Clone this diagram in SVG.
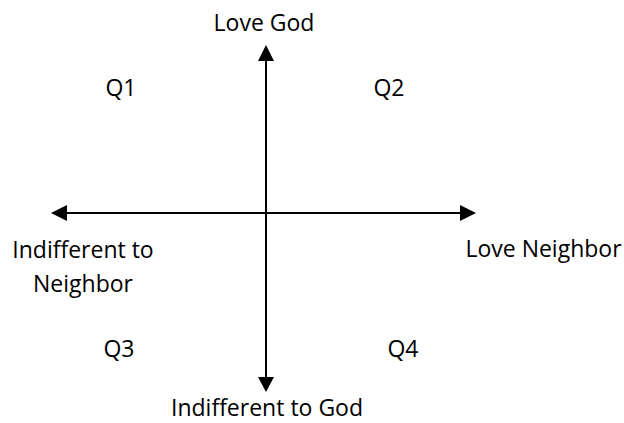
<svg xmlns="http://www.w3.org/2000/svg" width="624" height="423" viewBox="0 0 624 423">
<style>
text{font-family:"Open Sans","Noto Sans",sans-serif;font-size:23px;fill:#000;text-anchor:middle}
.ax{stroke:#000;stroke-width:2;fill:none}
.ah{fill:#000}
</style>
<rect width="624" height="423" fill="#fff"/>
<g id="connectors">
<line class="ax" x1="266" y1="58" x2="266" y2="380"/>
<polygon class="ah" points="266,45 258,61 274,61"/>
<polygon class="ah" points="266,392 258,377 274,377"/>
<line class="ax" x1="63" y1="213" x2="463" y2="213"/>
<polygon class="ah" points="51,213 67,205 67,221"/>
<polygon class="ah" points="476,213 460,205 460,221"/>
</g>
<g id="love-god"><text x="264" y="31">Love God</text></g>
<g id="indifferent-god"><text x="267" y="416">Indifferent to God</text></g>
<g id="love-neighbor"><text x="543.5" y="257">Love Neighbor</text></g>
<g id="indifferent-neighbor"><text x="83" y="258">Indifferent to</text><text x="83" y="292">Neighbor</text></g>
<g id="q1"><text x="121" y="96">Q1</text></g>
<g id="q2"><text x="389" y="96">Q2</text></g>
<g id="q3"><text x="119" y="357">Q3</text></g>
<g id="q4"><text x="403" y="357">Q4</text></g>
</svg>
